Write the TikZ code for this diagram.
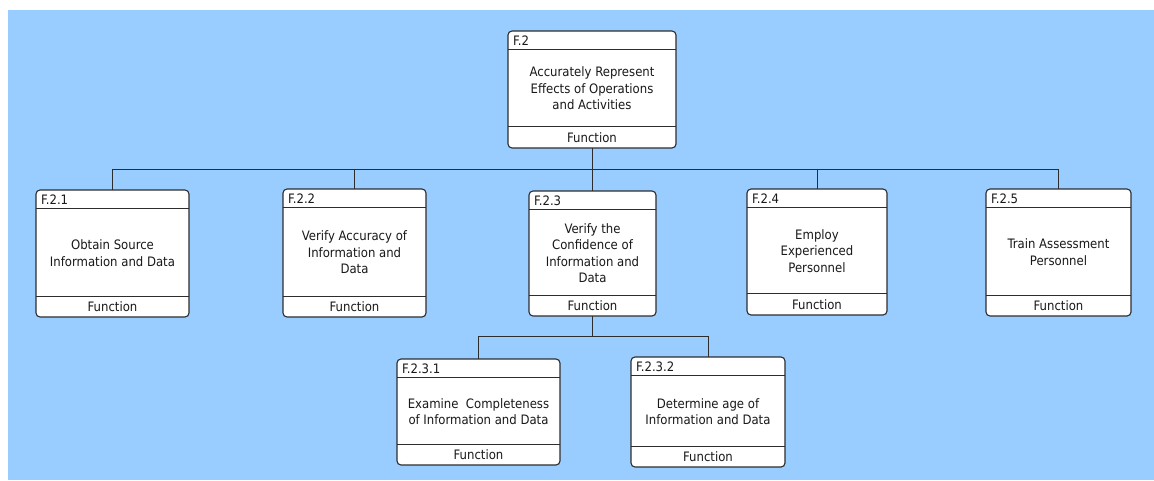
\documentclass[tikz,border=0pt]{standalone}
\usepackage{fontspec}
\setmainfont{DejaVu Sans Condensed}
\begin{document}
\definecolor{sky}{RGB}{153,204,255}
\definecolor{edge}{RGB}{45,45,45}
\definecolor{ink}{RGB}{25,25,25}
\tikzset{
  fbox/.style={draw=edge, line width=1.1pt, fill=white, rounded corners=4pt,
               inner sep=0pt, outer sep=0pt},
  sep/.style={draw=edge, line width=1pt},
  idtext/.style={text=ink, font=\fontsize{13}{15}\selectfont, inner sep=1pt},
  bodytext/.style={text=ink, font=\fontsize{13}{16.5}\selectfont, align=center, inner sep=0pt},
  link/.style={draw=edge, line width=1pt},
}
% #1 name, #2 left, #3 top, #4 right, #5 bottom, #6 header rule, #7 footer rule, #8 id, #9 title
\newcommand\funcbox[9]{%
  \node[fbox, anchor=north west, minimum width={(#4-#2)*1pt}, minimum height={(#5-#3)*1pt}] (#1) at (#2,#3) {};
  \draw[sep] (#2,#6) -- (#4,#6);
  \draw[sep] (#2,#7) -- (#4,#7);
  \node[idtext, anchor=west] (#1-id) at ({#2+4},{(#3+#6)/2+0.5}) {#8};
  \node[bodytext] (#1-title) at ({(#2+#4)/2},{(#6+#7)/2+1}) {#9};
  \node[idtext] (#1-kind) at ({(#2+#4)/2},{(#7+#5)/2+0.5}) {Function};
}
\begin{tikzpicture}[x=1pt, y=-1pt]
  \useasboundingbox (0,0) rectangle (1154,480);
  \fill[sky] (8,10) rectangle (1154,480);

  \funcbox{f2}{508}{31}{676}{148}{49}{126}{F.2}{Accurately Represent\\Effects of Operations\\and Activities}

  \funcbox{f21}{36}{190}{189}{317}{208}{296}{F.2.1}{Obtain Source\\Information and Data}
  \funcbox{f22}{283}{189}{426}{317}{207}{296}{F.2.2}{Verify Accuracy of\\Information and\\Data}
  \funcbox{f23}{529}{191}{656}{316}{209}{295}{F.2.3}{Verify the\\Confidence of\\Information and\\Data}
  \funcbox{f24}{747}{189}{887}{315}{207}{293}{F.2.4}{Employ\\Experienced\\Personnel}
  \funcbox{f25}{986}{189}{1131}{316}{207}{295}{F.2.5}{Train Assessment\\Personnel}

  \funcbox{f231}{397}{359}{560}{465}{377}{444}{F.2.3.1}{Examine\ \ Completeness\\of Information and Data}
  \funcbox{f232}{631}{357}{785}{467}{375}{446}{F.2.3.2}{Determine age of\\Information and Data}

  % decomposition tree
  \coordinate (bus1) at ([yshift=-21pt]f2.south);
  \coordinate (bus2) at ([yshift=-20pt]f23.south);
  \draw[link] (f2.south) -- (bus1);
  \foreach \c in {f21,f22,f23,f24,f25}
    \draw[link] (bus1) -| (\c.north);
  \draw[link] (f23.south) -- (bus2);
  \foreach \c in {f231,f232}
    \draw[link] (bus2) -| (\c.north);
\end{tikzpicture}
\end{document}
